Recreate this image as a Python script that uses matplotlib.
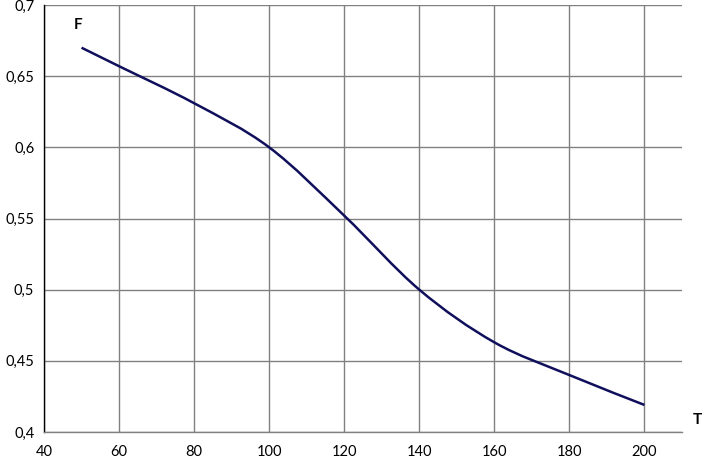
import matplotlib
matplotlib.use("Agg")
import matplotlib.pyplot as plt
from matplotlib.path import Path
from matplotlib.patches import PathPatch
import numpy as np

T = [50, 60, 80, 100, 120, 140, 160, 180, 200]
F = [0.670, 0.657, 0.631, 0.600, 0.552, 0.500, 0.463, 0.440, 0.419]
xticks = [40, 60, 80, 100, 120, 140, 160, 180, 200]
yticks = [0.4, 0.45, 0.5, 0.55, 0.6, 0.65, 0.7]
ytick_labels = ["0,4", "0,45", "0,5", "0,55", "0,6", "0,65", "0,7"]

plt.rcParams['font.family'] = ['Lato', 'DejaVu Sans']

fig = plt.figure(figsize=(7.06, 4.66), dpi=100)
ax = fig.add_axes([44/706, 1-432/466, (682-44)/706, (432-5)/466])
ax.set_xlim(40, 210)
ax.set_ylim(0.4, 0.7)

ax.set_xticks(xticks)
ax.set_yticks(yticks)
ax.set_yticklabels(ytick_labels)
ax.grid(True, color='#808080', linewidth=1.0)
ax.set_axisbelow(True)
for s in ['top', 'right']:
    ax.spines[s].set_visible(False)
ax.spines['left'].set_color('#000000')
ax.spines['bottom'].set_color('#808080')
ax.spines['left'].set_linewidth(1.0)
ax.spines['bottom'].set_linewidth(1.0)
ax.tick_params(length=0, labelsize=10.5, colors='#000000')
ax.tick_params(axis='y', pad=7)
ax.tick_params(axis='x', pad=9)

# Excel-style smoothed line (cardinal spline as cubic Bezier)
x = np.array(T, float)
y = np.array(F, float)
n = len(x)
verts = [(x[0], y[0])]
codes = [Path.MOVETO]
t = 1/6
for i in range(n - 1):
    x0, y0 = (x[i-1], y[i-1]) if i > 0 else (x[i], y[i])
    x3, y3 = (x[i+2], y[i+2]) if i + 2 < n else (x[i+1], y[i+1])
    c1 = (x[i] + (x[i+1] - x0) * t, y[i] + (y[i+1] - y0) * t)
    c2 = (x[i+1] - (x3 - x[i]) * t, y[i+1] - (y3 - y[i]) * t)
    verts += [c1, c2, (x[i+1], y[i+1])]
    codes += [Path.CURVE4] * 3
ax.add_patch(PathPatch(Path(verts, codes), facecolor='none', edgecolor='#0f0f5c',
                       linewidth=1.8, capstyle='butt'))

fig.text(78/706, 1-25/466, "F", fontsize=11, fontweight='bold', ha='center', va='center')
fig.text(697/706, 1-420/466, "T", fontsize=11, fontweight='bold', ha='center', va='center')

fig.savefig("out.png", dpi=100)
